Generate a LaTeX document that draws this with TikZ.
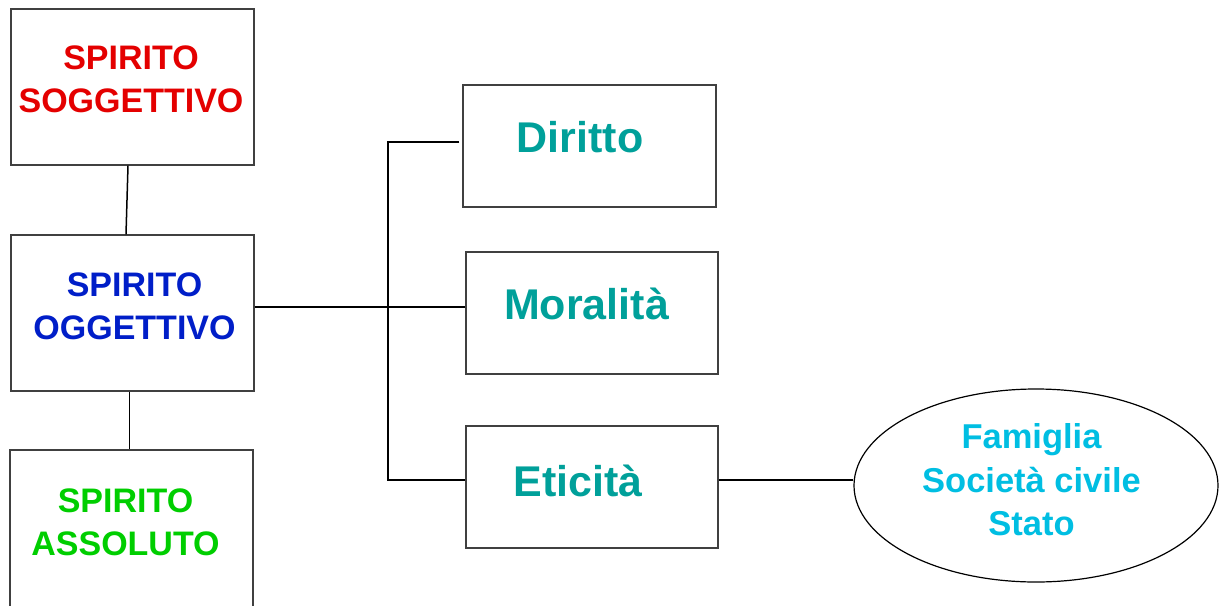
\documentclass[tikz,border=0pt]{standalone}
\usepackage{fontspec}
\setmainfont{Liberation Sans}
\usetikzlibrary{shapes.geometric}
\definecolor{rosso}{RGB}{228,0,0}
\definecolor{blu}{RGB}{0,30,200}
\definecolor{verde}{RGB}{0,206,0}
\definecolor{petrolio}{RGB}{0,160,154}
\definecolor{ciano}{RGB}{0,190,226}
\begin{document}
\begin{tikzpicture}[x=1pt,y=-1pt,
  riquadro/.style={draw=black!75,line width=1.3pt,inner sep=0pt},
  spirito/.style={align=center,font=\bfseries\fontsize{34}{43}\selectfont},
  momento/.style={font=\bfseries\fontsize{43}{50}\selectfont,text=petrolio},
  linea/.style={line width=1.5pt}]
\clip (0,0) rectangle (1220,605);
\fill[white] (0,0) rectangle (1220,605);

\node[riquadro,minimum width=243,minimum height=156] (sogg) at (132.5,87) {};
\node[riquadro,minimum width=243,minimum height=156] (ogg) at (132.5,313) {};
\node[riquadro,minimum width=243,minimum height=160] (ass) at (131.5,530) {};
\node[spirito,text=rosso] (soggT) at (131,79) {SPIRITO\\SOGGETTIVO};
\node[spirito,text=blu] (oggT) at (134.5,306) {SPIRITO\\OGGETTIVO};
\node[spirito,text=verde] (assT) at (125.5,522) {SPIRITO\\ASSOLUTO};

\node[riquadro,minimum width=253,minimum height=122] (dir) at (589.5,146) {};
\node[riquadro,minimum width=252,minimum height=122] (mor) at (592,313) {};
\node[riquadro,minimum width=252,minimum height=122] (eti) at (592,487) {};
\node[momento] (dirT) at (580,137.5) {Diritto};
\node[momento] (morT) at (586.5,304) {Moralità};
\node[momento] (etiT) at (578,481) {Eticità};

\node[ellipse,draw,line width=1.2pt,minimum width=364,minimum height=193] (fam) at (1036,485.5) {};
\node[align=center,text=ciano,font=\bfseries\fontsize{34.5}{43.5}\selectfont]
  (famT) at (1031.5,480) {Famiglia\\Società civile\\Stato};

\coordinate (alto) at (388,142);
\coordinate (snodo) at (388,307);
\coordinate (basso) at (388,480);

\draw[linea] ([xshift=-4.5]sogg.south) -- ([xshift=-6.5]ogg.north);
\draw[linea] ([xshift=-3]ogg.south) -- ([xshift=-2]ass.north);
\draw[linea] (ogg.east |- snodo) -- (mor.west |- snodo);
\draw[linea] ([xshift=-3]dir.west |- alto) -- (alto) -- (basso) -- (eti.west |- basso);
\draw[linea] (eti.east |- basso) -- (fam.west |- basso);
\end{tikzpicture}
\end{document}
